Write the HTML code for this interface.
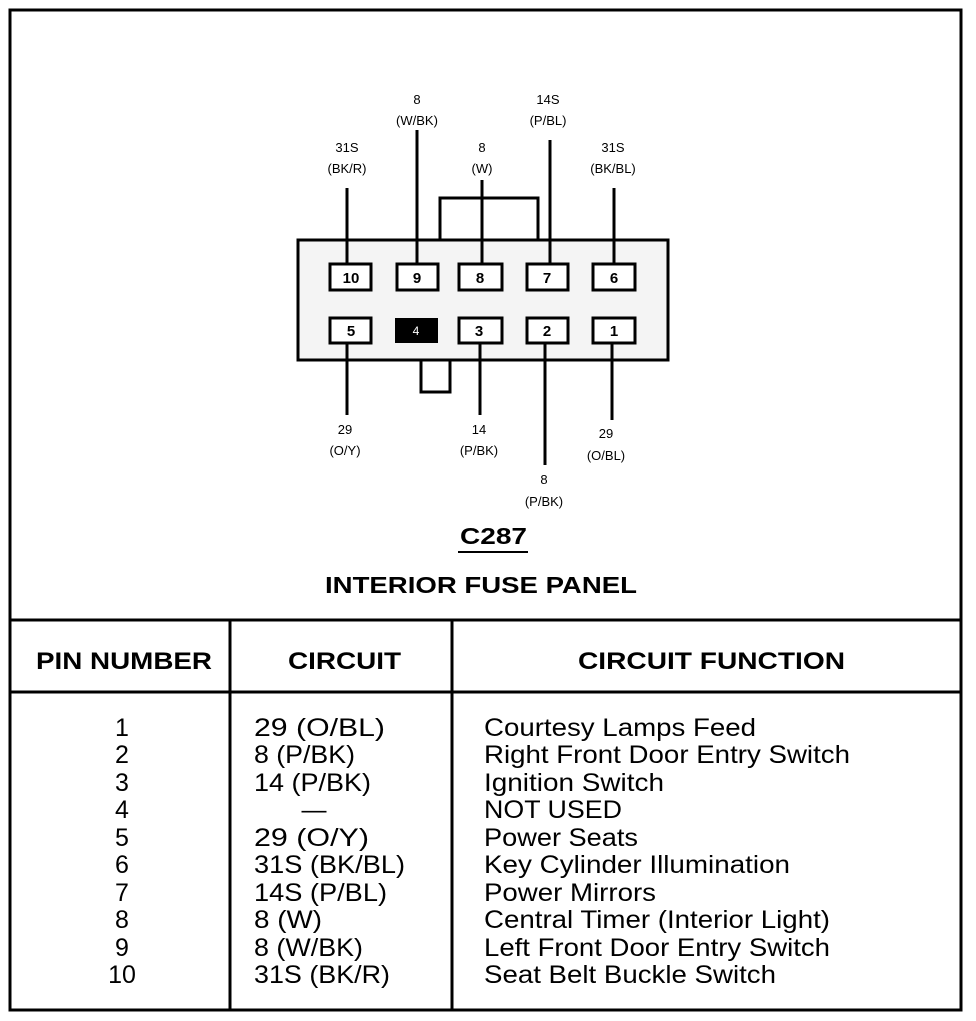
<!DOCTYPE html>
<html><head><style>
body{margin:0;background:#fff}
svg text{font-family:"Liberation Sans",Arial,sans-serif}
</style></head><body>
<svg width="976" height="1016" viewBox="0 0 976 1016" xmlns="http://www.w3.org/2000/svg">
<rect x="10" y="10" width="951" height="1000" fill="none" stroke="#000" stroke-width="3"/>
<line x1="10" y1="620" x2="961" y2="620" stroke="#000" stroke-width="3"/>
<line x1="10" y1="692" x2="961" y2="692" stroke="#000" stroke-width="3"/>
<line x1="230" y1="620" x2="230" y2="1010" stroke="#000" stroke-width="3"/>
<line x1="452" y1="620" x2="452" y2="1010" stroke="#000" stroke-width="3"/>
<g stroke="#000" stroke-width="3" fill="none">
<polyline points="440,240 440,198 538,198 538,240"/>
<rect x="421" y="360" width="29" height="32" fill="#fff"/>
<rect x="298" y="240" width="370" height="120" fill="#f4f4f4"/>
<line x1="347" y1="188" x2="347" y2="264"/>
<line x1="417" y1="130" x2="417" y2="264"/>
<line x1="482" y1="180" x2="482" y2="264"/>
<line x1="550" y1="140" x2="550" y2="264"/>
<line x1="614" y1="188" x2="614" y2="264"/>
<line x1="347" y1="343" x2="347" y2="415"/>
<line x1="480" y1="343" x2="480" y2="415"/>
<line x1="545" y1="343" x2="545" y2="465"/>
<line x1="612" y1="343" x2="612" y2="420"/>
<g fill="#fff">
<rect x="330" y="264" width="41" height="26"/>
<rect x="397" y="264" width="41" height="26"/>
<rect x="459" y="264" width="43" height="26"/>
<rect x="527" y="264" width="41" height="26"/>
<rect x="593" y="264" width="42" height="26"/>
<rect x="330" y="318" width="41" height="25"/>
<rect x="459" y="318" width="43" height="25"/>
<rect x="527" y="318" width="41" height="25"/>
<rect x="593" y="318" width="42" height="25"/>
</g>
</g>
<rect x="395" y="318" width="43" height="25" fill="#000"/>
<g font-size="15" font-weight="bold" text-anchor="middle">
<text x="351" y="283">10</text><text x="417" y="283">9</text><text x="480" y="283">8</text><text x="547" y="283">7</text><text x="614" y="283">6</text>
<text x="351" y="336">5</text><text x="479" y="336">3</text><text x="547" y="336">2</text><text x="614" y="336">1</text>
</g>
<text x="416" y="335" font-size="12" fill="#fff" text-anchor="middle">4</text>
<g font-size="13" text-anchor="middle">
<text x="417" y="104">8</text><text x="417" y="125">(W/BK)</text>
<text x="548" y="104">14S</text><text x="548" y="125">(P/BL)</text>
<text x="347" y="152">31S</text><text x="347" y="173">(BK/R)</text>
<text x="482" y="152">8</text><text x="482" y="173">(W)</text>
<text x="613" y="152">31S</text><text x="613" y="173">(BK/BL)</text>
<text x="345" y="434">29</text><text x="345" y="455">(O/Y)</text>
<text x="479" y="434">14</text><text x="479" y="455">(P/BK)</text>
<text x="606" y="438">29</text><text x="606" y="460">(O/BL)</text>
<text x="544" y="484">8</text><text x="544" y="506">(P/BK)</text>
</g>
<text x="460" y="544" font-size="23" font-weight="bold" textLength="67" lengthAdjust="spacingAndGlyphs">C287</text>
<line x1="458" y1="552" x2="528" y2="552" stroke="#000" stroke-width="2"/>
<text x="325" y="593" font-size="23" font-weight="bold" textLength="312" lengthAdjust="spacingAndGlyphs">INTERIOR FUSE PANEL</text>
<g font-size="24" font-weight="bold">
<text x="36" y="669" textLength="176" lengthAdjust="spacingAndGlyphs">PIN NUMBER</text>
<text x="288" y="669" textLength="113" lengthAdjust="spacingAndGlyphs">CIRCUIT</text>
<text x="578" y="669" textLength="267" lengthAdjust="spacingAndGlyphs">CIRCUIT FUNCTION</text>
</g>
<g font-size="25">
<g text-anchor="middle">
<text x="122" y="736">1</text><text x="122" y="763">2</text><text x="122" y="791">3</text><text x="122" y="818">4</text><text x="122" y="846">5</text><text x="122" y="873">6</text><text x="122" y="901">7</text><text x="122" y="928">8</text><text x="122" y="956">9</text><text x="122" y="983">10</text>
<text x="314" y="818">—</text>
</g>
<text x="254" y="736" textLength="131" lengthAdjust="spacingAndGlyphs">29 (O/BL)</text>
<text x="254" y="763" textLength="101" lengthAdjust="spacingAndGlyphs">8 (P/BK)</text>
<text x="254" y="791" textLength="117" lengthAdjust="spacingAndGlyphs">14 (P/BK)</text>
<text x="254" y="846" textLength="115" lengthAdjust="spacingAndGlyphs">29 (O/Y)</text>
<text x="254" y="873" textLength="151" lengthAdjust="spacingAndGlyphs">31S (BK/BL)</text>
<text x="254" y="901" textLength="133" lengthAdjust="spacingAndGlyphs">14S (P/BL)</text>
<text x="254" y="928" textLength="68" lengthAdjust="spacingAndGlyphs">8 (W)</text>
<text x="254" y="956" textLength="109" lengthAdjust="spacingAndGlyphs">8 (W/BK)</text>
<text x="254" y="983" textLength="136" lengthAdjust="spacingAndGlyphs">31S (BK/R)</text>
<text x="484" y="736" textLength="272" lengthAdjust="spacingAndGlyphs">Courtesy Lamps Feed</text>
<text x="484" y="763" textLength="366" lengthAdjust="spacingAndGlyphs">Right Front Door Entry Switch</text>
<text x="484" y="791" textLength="180" lengthAdjust="spacingAndGlyphs">Ignition Switch</text>
<text x="484" y="818" textLength="138" lengthAdjust="spacingAndGlyphs">NOT USED</text>
<text x="484" y="846" textLength="154" lengthAdjust="spacingAndGlyphs">Power Seats</text>
<text x="484" y="873" textLength="306" lengthAdjust="spacingAndGlyphs">Key Cylinder Illumination</text>
<text x="484" y="901" textLength="172" lengthAdjust="spacingAndGlyphs">Power Mirrors</text>
<text x="484" y="928" textLength="346" lengthAdjust="spacingAndGlyphs">Central Timer (Interior Light)</text>
<text x="484" y="956" textLength="346" lengthAdjust="spacingAndGlyphs">Left Front Door Entry Switch</text>
<text x="484" y="983" textLength="292" lengthAdjust="spacingAndGlyphs">Seat Belt Buckle Switch</text>
</g>
</svg>
</body></html>
